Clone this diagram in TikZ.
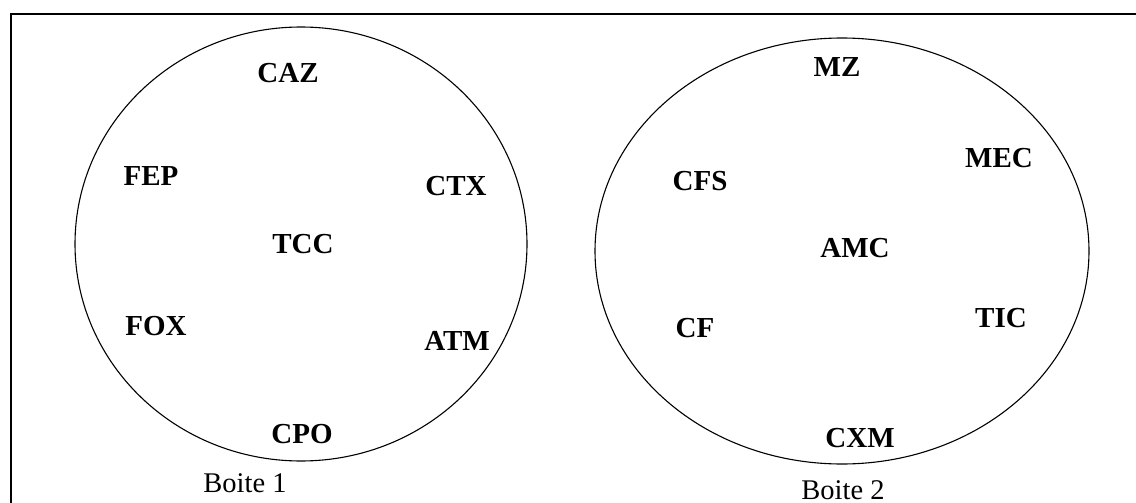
\documentclass[tikz,border=0pt]{standalone}
\usepackage{fontspec}
\setmainfont{Liberation Serif}
\begin{document}
\begin{tikzpicture}[x=1pt,y=-1pt,
  lbl/.style={anchor=base,inner sep=0pt,font=\fontsize{29}{30}\selectfont\bfseries},
  boxlabel/.style={anchor=base,inner sep=0pt,font=\fontsize{28.5}{30}\selectfont},
  ring/.style={draw=black,line width=1.1pt}]
\useasboundingbox (0,0) rectangle (1136,503);
\clip (0,0) rectangle (1136,503);
\fill[white] (0,0) rectangle (1136,503);
\draw[line width=2.2pt] (11,14) rectangle (1150,520);
% Boite 1
\draw[ring] (301,244) ellipse [x radius=226, y radius=217];
\node[lbl] (caz) at (288,82) {CAZ};
\node[lbl] (fep) at (151,185) {FEP};
\node[lbl] (ctx) at (456,195) {CTX};
\node[lbl] (tcc) at (303,253) {TCC};
\node[lbl] (fox) at (156,335) {FOX};
\node[lbl] (atm) at (457,350) {ATM};
\node[lbl] (cpo) at (302,443) {CPO};
\node[boxlabel] (b1) at (245,492) {Boite 1};
% Boite 2
\draw[ring] (842,251) ellipse [x radius=247, y radius=213];
\node[lbl] (mz) at (837,77) {MZ};
\node[lbl] (cfs) at (700,190) {CFS};
\node[lbl] (mec) at (999,167) {MEC};
\node[lbl] (amc) at (855,257) {AMC};
\node[lbl] (cf) at (695,337) {CF};
\node[lbl] (tic) at (1001,327) {TIC};
\node[lbl] (cxm) at (860,447) {CXM};
\node[boxlabel] (b2) at (843,499) {Boite 2};
\end{tikzpicture}
\end{document}
